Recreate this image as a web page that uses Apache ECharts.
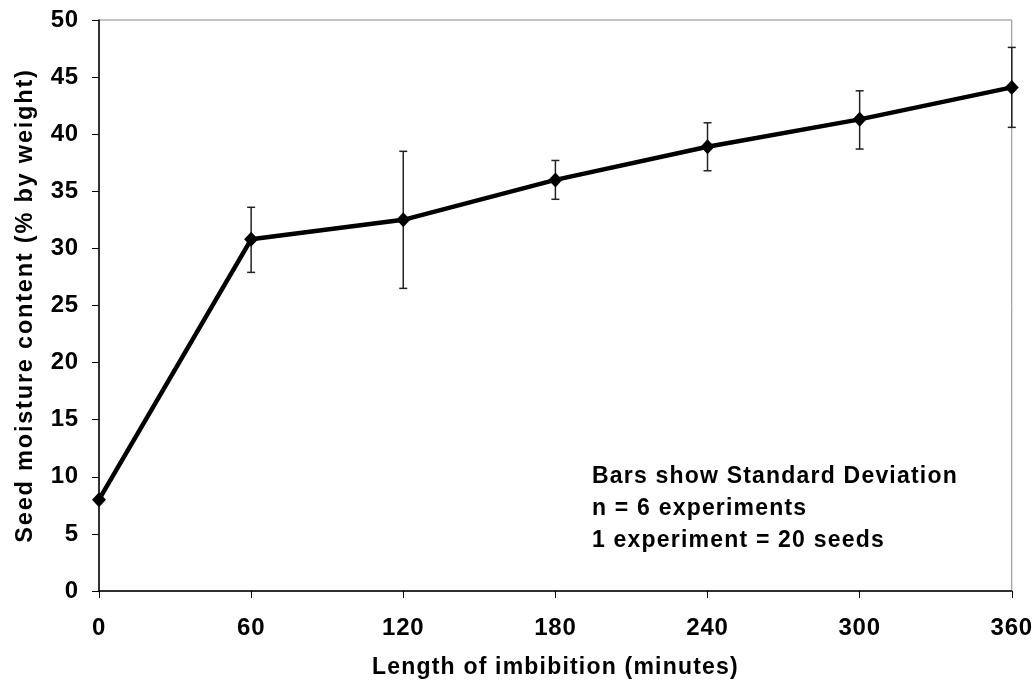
<!DOCTYPE html>
<html>
<head>
<meta charset="utf-8">
<script src="https://cdn.jsdelivr.net/npm/echarts@6/dist/echarts.min.js"></script>
<style>html,body{margin:0;padding:0;background:#fff;}#c{width:1036px;height:696px;}</style>
</head>
<body>
<div id="c"></div>
<script>
var minutes = [0, 60, 120, 180, 240, 300, 360];
var moisture = [8.0, 30.8, 32.5, 36.0, 38.9, 41.3, 44.1];
var sdUpper = [null, 33.6, 38.5, 37.7, 41.0, 43.8, 47.6];
var sdLower = [null, 27.9, 26.5, 34.3, 36.8, 38.7, 40.6];
var notes = ['Bars show Standard Deviation', 'n = 6 experiments', '1 experiment = 20 seeds'];

// Slightly wider, GDI-like letter spacing for the bold text (applied to drawing and measuring alike)
(function () {
  var P = window.CanvasRenderingContext2D && CanvasRenderingContext2D.prototype;
  if (!P || !('letterSpacing' in P)) return;
  function spacing(font) {
    if (/\b23\.5px/.test(font)) return '1.8px';
    if (/\b23px/.test(font)) return '1.2px';
    if (/\b24px/.test(font)) return '0.8px';
    return '0px';
  }
  var ft = P.fillText, mt = P.measureText;
  P.fillText = function () { this.letterSpacing = spacing(this.font); return ft.apply(this, arguments); };
  P.measureText = function () { this.letterSpacing = spacing(this.font); return mt.apply(this, arguments); };
})();

var FONT = '"Liberation Sans", Arial, sans-serif';
var chart = echarts.init(document.getElementById('c'), null, {renderer: 'canvas'});

var lineData = minutes.map(function (m, i) { return [m, moisture[i]]; });
var errData = [];
minutes.forEach(function (m, i) {
  if (sdUpper[i] != null) errData.push([m, sdLower[i], sdUpper[i]]);
});

chart.setOption({
  animation: false,
  backgroundColor: '#fff',
  grid: {left: 99, right: 24, top: 20, bottom: 105, show: true, borderColor: '#888', borderWidth: 1},
  xAxis: {
    type: 'value', min: 0, max: 360, interval: 60,
    name: 'Length of imbibition (minutes)', nameLocation: 'middle', nameGap: 65,
    nameTextStyle: {fontFamily: FONT, fontWeight: 'bold', fontSize: 23, color: '#000'},
    axisLine: {show: true, onZero: false, lineStyle: {color: '#000', width: 1.5}},
    axisTick: {show: true, inside: false, length: 7, lineStyle: {color: '#000'}},
    axisLabel: {fontFamily: FONT, fontWeight: 'bold', fontSize: 24, color: '#000', margin: 25},
    splitLine: {show: false}
  },
  yAxis: {
    type: 'value', min: 0, max: 50, interval: 5,
    name: 'Seed moisture content (% by weight)', nameLocation: 'middle', nameGap: 61,
    nameTextStyle: {fontFamily: FONT, fontWeight: 'bold', fontSize: 23.5, color: '#000'},
    axisLine: {show: true, lineStyle: {color: '#000', width: 1.5}},
    axisTick: {show: true, inside: false, length: 7, lineStyle: {color: '#000'}},
    axisLabel: {fontFamily: FONT, fontWeight: 'bold', fontSize: 24, color: '#000', margin: 20},
    splitLine: {show: false}
  },
  series: [
    {
      type: 'custom',
      data: errData,
      z: 1,
      renderItem: function (params, api) {
        var x = api.value(0);
        var lo = api.coord([x, api.value(1)]);
        var hi = api.coord([x, api.value(2)]);
        var cw = 4;
        var st = {stroke: '#222', lineWidth: 1.5};
        return {
          type: 'group',
          children: [
            {type: 'line', shape: {x1: lo[0], y1: lo[1], x2: hi[0], y2: hi[1]}, style: st},
            {type: 'line', shape: {x1: lo[0] - cw, y1: lo[1], x2: lo[0] + cw, y2: lo[1]}, style: st},
            {type: 'line', shape: {x1: hi[0] - cw, y1: hi[1], x2: hi[0] + cw, y2: hi[1]}, style: st}
          ]
        };
      }
    },
    {
      type: 'line',
      data: lineData,
      z: 2,
      symbol: 'diamond',
      symbolSize: [14, 15],
      showAllSymbol: true,
      lineStyle: {color: '#000', width: 4.5},
      itemStyle: {color: '#000', borderWidth: 0}
    }
  ],
  graphic: notes.map(function (t, i) {
    return {
      type: 'text', left: 592, top: 465 + i * 31.7,
      style: {text: t, fontFamily: FONT, fontWeight: 'bold', fontSize: 23, fill: '#000'}
    };
  })
});
</script>
</body>
</html>
